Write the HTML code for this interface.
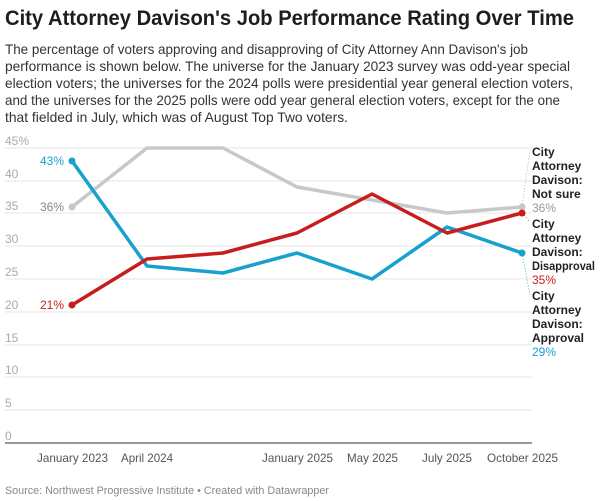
<!DOCTYPE html>
<html><head><meta charset="utf-8"><style>
html,body{margin:0;padding:0;background:#fff;width:600px;height:501px;overflow:hidden}
svg{display:block;font-family:"Liberation Sans",sans-serif}
</style></head><body>
<svg width="600" height="501" viewBox="0 0 600 501">
<text x="5" y="25" font-size="21" font-weight="bold" fill="#1d1d1d" textLength="569" lengthAdjust="spacingAndGlyphs">City Attorney Davison's Job Performance Rating Over Time</text>
<g font-size="14" fill="#333">
<text x="5" y="54" textLength="523" lengthAdjust="spacingAndGlyphs">The percentage of voters approving and disapproving of City Attorney Ann Davison's job</text>
<text x="5" y="71" textLength="565" lengthAdjust="spacingAndGlyphs">performance is shown below. The universe for the January 2023 survey was odd-year special</text>
<text x="5" y="88" textLength="568" lengthAdjust="spacingAndGlyphs">election voters; the universes for the 2024 polls were presidential year general election voters,</text>
<text x="5" y="105" textLength="555" lengthAdjust="spacingAndGlyphs">and the universes for the 2025 polls were odd year general election voters, except for the one</text>
<text x="5" y="122" textLength="343" lengthAdjust="spacingAndGlyphs">that fielded in July, which was of August Top Two voters.</text>
</g>
<g stroke="#e6e6e6" stroke-width="1">
<line x1="5" x2="532" y1="148" y2="148"/><line x1="5" x2="532" y1="181" y2="181"/>
<line x1="5" x2="532" y1="213" y2="213"/><line x1="5" x2="532" y1="246" y2="246"/>
<line x1="5" x2="532" y1="279" y2="279"/><line x1="5" x2="532" y1="312" y2="312"/>
<line x1="5" x2="532" y1="345" y2="345"/><line x1="5" x2="532" y1="377" y2="377"/>
<line x1="5" x2="532" y1="410" y2="410"/>
</g>
<line x1="5" x2="532" y1="443" y2="443" stroke="#333" stroke-width="1"/>
<g font-size="12" fill="#aaa">
<text x="5" y="145">45%</text><text x="5" y="178">40</text><text x="5" y="210">35</text>
<text x="5" y="243">30</text><text x="5" y="276">25</text><text x="5" y="309">20</text>
<text x="5" y="342">15</text><text x="5" y="374">10</text><text x="5" y="407">5</text><text x="5" y="440">0</text>
</g>
<g font-size="12" fill="#555">
<text x="37" y="462" textLength="71" lengthAdjust="spacingAndGlyphs">January 2023</text>
<text x="121" y="462" textLength="52" lengthAdjust="spacingAndGlyphs">April 2024</text>
<text x="262" y="462" textLength="71" lengthAdjust="spacingAndGlyphs">January 2025</text>
<text x="347" y="462" textLength="51" lengthAdjust="spacingAndGlyphs">May 2025</text>
<text x="422" y="462" textLength="50" lengthAdjust="spacingAndGlyphs">July 2025</text>
<text x="487" y="462" textLength="71" lengthAdjust="spacingAndGlyphs">October 2025</text>
</g>
<g fill="none" stroke-width="3.5" stroke-linejoin="round">
<polyline stroke="#c8c8c8" points="72,207 147,148 223,148 297,187 372,200 447,213 522,207"/>
<polyline stroke="#18a1cd" points="72,161 147,266 223,273 297,253 372,279 447,227 522,253"/>
<polyline stroke="#c71e1d" points="72,305 147,259 223,253 297,233 372,194 447,233 522,213"/>
</g>
<circle cx="72" cy="207" r="3.5" fill="#c8c8c8"/><circle cx="522" cy="207" r="3.5" fill="#c8c8c8"/>
<circle cx="72" cy="161" r="3.5" fill="#18a1cd"/><circle cx="522" cy="253" r="3.5" fill="#18a1cd"/>
<circle cx="72" cy="305" r="3.5" fill="#c71e1d"/><circle cx="522" cy="213" r="3.5" fill="#c71e1d"/>
<g stroke-dasharray="1,2" stroke-width="0.8" fill="none">
<polyline stroke="#aaa" points="522,207 530,150"/>
<polyline stroke="#c71e1d" points="522,213 530,222"/>
<polyline stroke="#18a1cd" points="522,253 530,295"/>
</g>
<g font-size="12" text-anchor="end">
<text x="64" y="165" fill="#18a1cd">43%</text>
<text x="64" y="211" fill="#888">36%</text>
<text x="64" y="309" fill="#c71e1d">21%</text>
</g>
<g font-size="12" font-weight="bold" fill="#222">
<text x="532" y="156">City</text><text x="532" y="170">Attorney</text><text x="532" y="184">Davison:</text><text x="532" y="198">Not sure</text>
<text x="532" y="228">City</text><text x="532" y="242">Attorney</text><text x="532" y="256">Davison:</text><text x="532" y="270" textLength="63" lengthAdjust="spacingAndGlyphs">Disapproval</text>
<text x="532" y="300">City</text><text x="532" y="314">Attorney</text><text x="532" y="328">Davison:</text><text x="532" y="342">Approval</text>
</g>
<g font-size="12">
<text x="532" y="212" fill="#999">36%</text>
<text x="532" y="284" fill="#c71e1d">35%</text>
<text x="532" y="356" fill="#18a1cd">29%</text>
</g>
<text x="5" y="494" font-size="11" fill="#888" textLength="324" lengthAdjust="spacingAndGlyphs">Source: Northwest Progressive Institute • Created with Datawrapper</text>
</svg>
</body></html>
